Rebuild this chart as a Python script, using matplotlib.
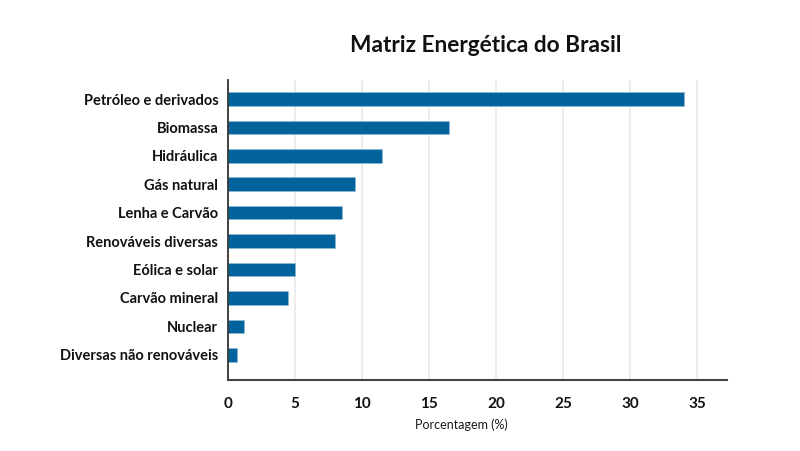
import matplotlib
matplotlib.use("Agg")
import matplotlib.pyplot as plt

categories = ["Petróleo e derivados", "Biomassa", "Hidráulica", "Gás natural",
              "Lenha e Carvão", "Renováveis diversas", "Eólica e solar",
              "Carvão mineral", "Nuclear", "Diversas não renováveis"]
values = [34.0, 16.5, 11.5, 9.5, 8.5, 8.0, 5.0, 4.5, 1.2, 0.7]
xticks = [0, 5, 10, 15, 20, 25, 30, 35]

plt.rcParams['font.family'] = ['Lato', 'DejaVu Sans']

fig = plt.figure(figsize=(8, 4.51), dpi=100)
ax = fig.add_axes([228/800, 70.7/451, 499/800, 300.3/451])

ypos = list(range(len(categories)))
ax.barh(ypos, values, height=0.48, color='#03639C', edgecolor='#8fb8d6',
        linewidth=0.4, zorder=2)
ax.set_ylim(9.9, -0.67)
ax.set_xlim(0, 37.24)

ax.set_yticks(ypos)
ax.set_yticklabels(categories, fontsize=10.5, fontweight='bold', color='#111111')
ax.tick_params(axis='y', direction='in', length=6, width=1.2, color='#1a1a1a',
               pad=7)
ax.set_xticks(xticks)
ax.set_xticklabels([str(t) for t in xticks], fontsize=11, fontweight='bold',
                   color='#111111')
ax.tick_params(axis='x', length=0, pad=12)
for lbl in ax.get_xticklabels():
    lbl.set_x(lbl.get_position()[0])
for t in ax.yaxis.get_major_ticks():
    t.tick1line.set_zorder(5)

ax.grid(axis='x', color='#eaeaea', linewidth=1.3, zorder=0)
ax.set_axisbelow(True)
ax.spines['top'].set_visible(False)
ax.spines['right'].set_visible(False)
ax.spines['left'].set_color('#333333')
ax.spines['left'].set_linewidth(1.3)
ax.spines['bottom'].set_color('#444444')
ax.spines['bottom'].set_linewidth(1.5)

ax.set_xlabel('Porcentagem (%)', fontsize=9, color='#1a1a1a')
ax.xaxis.set_label_coords((461 - 228) / 499, -(425 - 380.3) / 300.3)
ax.xaxis.label.set_va('center')

fig.text(486/800, 1 - 45/451, 'Matriz Energética do Brasil', ha='center',
         va='center', fontsize=16.3, fontweight='bold', color='#111111')

fig.savefig('out.png', dpi=100, facecolor='white')
